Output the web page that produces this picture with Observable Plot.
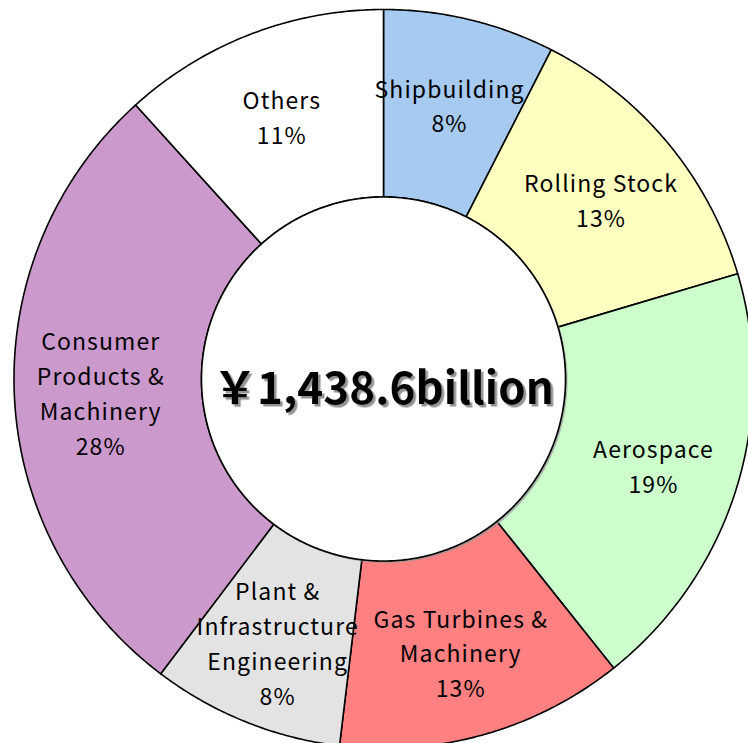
<!DOCTYPE html>
<html>
<head>
<meta charset="utf-8">
<script src="https://cdn.jsdelivr.net/npm/d3@7"></script>
<script src="https://cdn.jsdelivr.net/npm/@observablehq/plot@0.6"></script>
<style>
  html, body { margin: 0; padding: 0; background: white; overflow: hidden; }
  #chart svg { display: block; }
</style>
</head>
<body>
<div id="chart"></div>
<script>
// ---- data ----
const segments = ["Shipbuilding", "Rolling Stock", "Aerospace", "Gas Turbines &\nMachinery",
  "Plant &\nInfrastructure\nEngineering", "Consumer\nProducts &\nMachinery", "Others"];
const shares = [7.5, 12.9, 18.9, 12.6, 8.4, 28.0, 11.7];
const pctLabels = ["8%", "13%", "19%", "13%", "8%", "28%", "11%"];
const colors = ["#a6caf0", "#ffffc0", "#ccffcc", "#ff8080", "#e3e3e3", "#cc99cc", "#ffffff"];
const totalLabel = "￥1,438.6billion";

// ---- geometry (in units of the outer radius) ----
const rOuter = 1, rInner = 0.4926, rLabel = 0.766;
const total = d3.sum(shares);
const slicePts = [];
const labelData = [];
let acc = 0;
shares.forEach((v, i) => {
  const a0 = acc / total * 2 * Math.PI;
  acc += v;
  const a1 = acc / total * 2 * Math.PI;
  const n = Math.max(4, Math.ceil((a1 - a0) / (Math.PI / 360)));
  for (let k = 0; k <= n; k++) {
    const a = a0 + (a1 - a0) * k / n;
    slicePts.push({key: segments[i], x: rOuter * Math.sin(a), y: rOuter * Math.cos(a)});
  }
  for (let k = n; k >= 0; k--) {
    const a = a0 + (a1 - a0) * k / n;
    slicePts.push({key: segments[i], x: rInner * Math.sin(a), y: rInner * Math.cos(a)});
  }
  const am = (a0 + a1) / 2;
  labelData.push({x: rLabel * Math.sin(am), y: rLabel * Math.cos(am), text: segments[i] + "\n" + pctLabels[i]});
});
const circlePts = d3.range(0, 721).map(k => {
  const a = k / 720 * 2 * Math.PI;
  return {x: rInner * Math.sin(a), y: rInner * Math.cos(a)};
});

const W = 748, H = 743;
const cx = 383, cy = 378.5, R = 369.5;
const font = "'Noto Sans CJK JP', 'Noto Sans', sans-serif";

const chart = Plot.plot({
  width: W,
  height: H,
  marginLeft: cx - R,
  marginRight: 0,
  marginTop: cy - R,
  marginBottom: 0,
  x: {axis: null, domain: [-1, (W - cx) / R]},
  y: {axis: null, domain: [-(H - cy) / R, 1]},
  color: {domain: segments, range: colors},
  style: {fontFamily: font, background: "white"},
  marks: [
    Plot.line(slicePts, {x: "x", y: "y", z: "key", fill: "key", stroke: "black", strokeWidth: 1.6, curve: "linear-closed"}),
    Plot.line(circlePts, {x: "x", y: "y", fill: "#999", stroke: "none", curve: "linear-closed", dx: 2, dy: 2, fillOpacity: 0.7}),
    Plot.line(circlePts, {x: "x", y: "y", fill: "white", stroke: "black", strokeWidth: 1.6, curve: "linear-closed"}),
    Plot.text(labelData, {x: "x", y: "y", text: "text", fontSize: 23, lineHeight: 1.52, fill: "black", fontFamily: font}),
    Plot.text([totalLabel], {x: 0, y: 0, text: d => d, fontSize: 44, fontWeight: "bold", fill: "black", dy: 11, fontFamily: font})
  ]
});

// post-styling: letter spacing for segment labels, drop shadow for the total
const svg = d3.select(chart);
const defs = svg.insert("defs", ":first-child");
defs.append("filter").attr("id", "txtshadow").attr("x", "-10%").attr("y", "-40%").attr("width", "120%").attr("height", "180%")
  .append("feDropShadow").attr("dx", 2.5).attr("dy", 2.5).attr("stdDeviation", 0.7)
  .attr("flood-color", "#808080").attr("flood-opacity", 0.85);
const textGroups = svg.selectAll('g[aria-label="text"]').nodes();
if (textGroups.length >= 2) {
  d3.select(textGroups[0]).attr("letter-spacing", "1.1px").style("letter-spacing", "1.1px");
  d3.select(textGroups[textGroups.length - 1]).attr("filter", "url(#txtshadow)");
}

document.getElementById("chart").appendChild(chart);
</script>
</body>
</html>
